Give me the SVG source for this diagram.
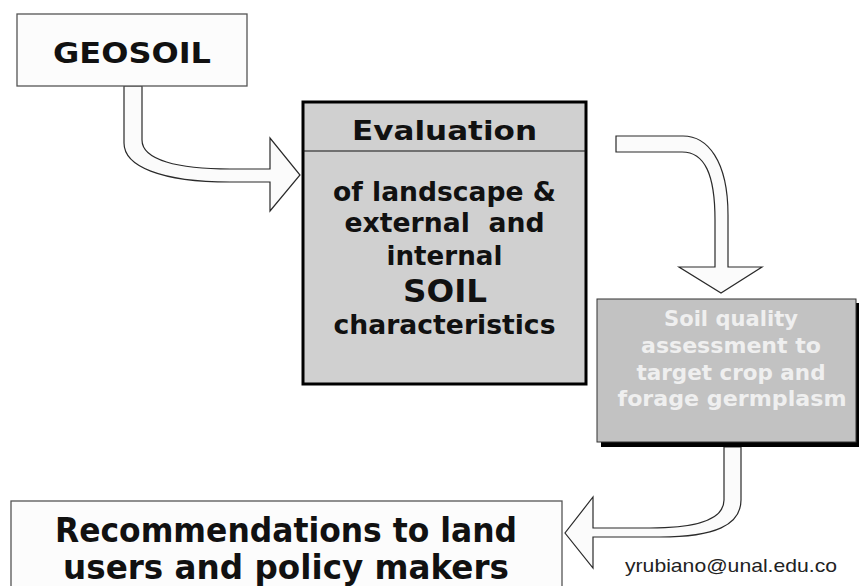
<svg xmlns="http://www.w3.org/2000/svg" width="859" height="586" viewBox="0 0 859 586">
<style>
.b{font-family:"DejaVu Sans","Noto Sans",sans-serif;font-weight:bold;text-anchor:middle;white-space:pre}
.dk{fill:#111}
.lt{fill:#efefef}
.arrow{fill:#fbfbfb;stroke:#2a2a2a;stroke-width:1.2;stroke-linejoin:miter}
.plain{fill:#fcfcfc;stroke:#555;stroke-width:1.3}
</style>
<rect width="859" height="586" fill="#ffffff"/>
<g id="connectors">
<path class="arrow" d="M124,86 L124,143 C124,166 160,182 230,182 L270,182 L270,211 L300,175 L270,138 L270,169 L230,169 C178,169 142,160 142,140 L142,86 Z"/>
<path class="arrow" d="M616,136 L683,136 C707,136 728,160 728,215 L728,267 L762,267 L721,293 L679,267 L715,267 L715,220 C715,175 705,152 682,152 L616,152 Z"/>
<path class="arrow" d="M741,447 L741,500 C741,525 715,537 660,537 L593,537 L593,568 L565,533 L593,497 L593,528 L650,528 C700,528 724,518 724,500 L724,447 Z"/>
</g>
<g id="geosoil">
<rect class="plain" x="17" y="14" width="230" height="72"/>
<text class="b dk" x="132" y="63" font-size="28" textLength="158" lengthAdjust="spacingAndGlyphs">GEOSOIL</text>
</g>
<g id="evaluation">
<rect x="303" y="102" width="283" height="282" fill="#d0d0d0" stroke="#000" stroke-width="3"/>
<line x1="303" y1="151" x2="586" y2="151" stroke="#111" stroke-width="1.2"/>
<text class="b dk" x="444.5" y="140" font-size="26" textLength="185" lengthAdjust="spacingAndGlyphs">Evaluation</text>
<text class="b dk" x="444.5" y="201" font-size="27" textLength="223" lengthAdjust="spacingAndGlyphs">of landscape &amp;</text>
<text class="b dk" x="444.5" y="232" font-size="27" textLength="200" lengthAdjust="spacingAndGlyphs">external  and</text>
<text class="b dk" x="444.5" y="265" font-size="27" textLength="116" lengthAdjust="spacingAndGlyphs">internal</text>
<text class="b dk" x="445" y="302" font-size="32" textLength="84" lengthAdjust="spacingAndGlyphs">SOIL</text>
<text class="b dk" x="444.5" y="334" font-size="27" textLength="222" lengthAdjust="spacingAndGlyphs">characteristics</text>
</g>
<g id="soil-quality">
<rect x="601" y="303" width="258" height="144" fill="#000"/>
<rect x="597" y="299" width="259" height="143" fill="#c2c2c2" stroke="#333" stroke-width="1"/>
<text class="b lt" x="731" y="326" font-size="21" textLength="134" lengthAdjust="spacingAndGlyphs">Soil quality</text>
<text class="b lt" x="731" y="353" font-size="21" textLength="180" lengthAdjust="spacingAndGlyphs">assessment to</text>
<text class="b lt" x="731" y="380" font-size="21" textLength="189" lengthAdjust="spacingAndGlyphs">target crop and</text>
<text class="b lt" x="732" y="406" font-size="21" textLength="229" lengthAdjust="spacingAndGlyphs">forage germplasm</text>
</g>
<g id="recommendations">
<rect class="plain" x="11" y="501" width="551" height="100"/>
<text class="b dk" x="286" y="542" font-size="33" textLength="462" lengthAdjust="spacingAndGlyphs">Recommendations to land</text>
<text class="b dk" x="286" y="579" font-size="33" textLength="446" lengthAdjust="spacingAndGlyphs">users and policy makers</text>
</g>
<g id="email">
<text x="625" y="572" font-family="Liberation Sans, Arial, sans-serif" font-size="19" fill="#222" textLength="212" lengthAdjust="spacingAndGlyphs">yrubiano@unal.edu.co</text>
</g>
</svg>
